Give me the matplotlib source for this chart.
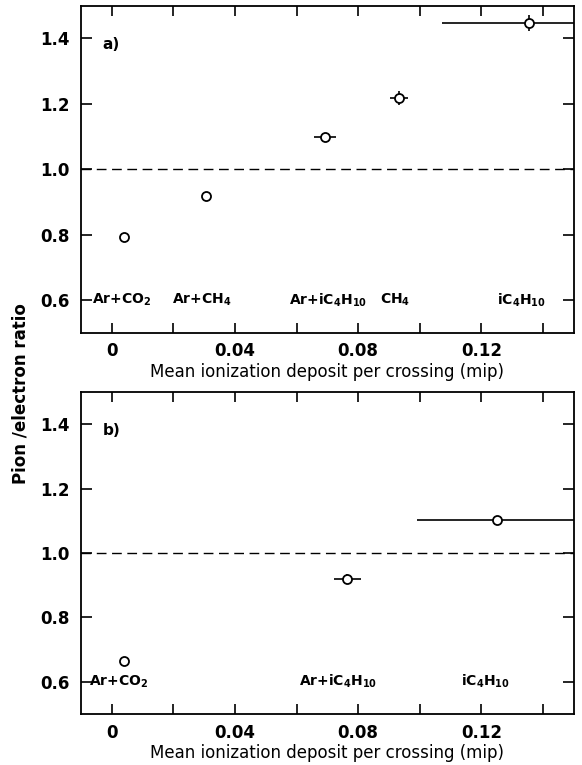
import matplotlib
matplotlib.use('Agg')
import matplotlib.pyplot as plt

plt.rcParams['font.family'] = ['DejaVu Sans Condensed', 'Liberation Sans Narrow', 'DejaVu Sans']
plt.rcParams['font.weight'] = 'bold'
plt.rcParams['mathtext.default'] = 'regular'

# panel a) : mean ionization deposit (mip) vs pion/electron ratio
a_x = [0.004, 0.0306, 0.0692, 0.0933, 0.1353]
a_y = [0.794, 0.918, 1.099, 1.218, 1.448]
a_xerr = [0.0, 0.0, 0.0035, 0.003, 0.028]
a_yerr = [0.0, 0.0, 0.013, 0.02, 0.025]
a_labels = ['Ar+CO$_2$', 'Ar+CH$_4$', 'Ar+iC$_4$H$_{10}$', 'CH$_4$', 'iC$_4$H$_{10}$']
a_label_x = [0.0033, 0.0293, 0.0702, 0.092, 0.133]

# panel b)
b_x = [0.004, 0.0765, 0.1251]
b_y = [0.663, 0.920, 1.101]
b_xerr = [0.0, 0.0045, 0.026]
b_yerr = [0.0, 0.015, 0.015]
b_labels = ['Ar+CO$_2$', 'Ar+iC$_4$H$_{10}$', 'iC$_4$H$_{10}$']
b_label_x = [0.0023, 0.0735, 0.1213]

xticks = [0, 0.04, 0.08, 0.12]
xtick_labels = ['0', '0.04', '0.08', '0.12']
yticks = [0.6, 0.8, 1.0, 1.2, 1.4]

fig = plt.figure(figsize=(5.82, 7.65), dpi=100)
ax1 = fig.add_axes([0.139, 0.565, 0.847, 0.4275])
ax2 = fig.add_axes([0.139, 0.0667, 0.847, 0.421])

panels = [
    (ax1, a_x, a_y, a_xerr, a_yerr, a_labels, a_label_x, 'a)'),
    (ax2, b_x, b_y, b_xerr, b_yerr, b_labels, b_label_x, 'b)'),
]

for ax, x, y, xe, ye, labs, lx, tag in panels:
    ax.axhline(1.0, color='black', lw=1.0, ls=(0, (7, 4)), zorder=1)
    ax.errorbar(x, y, xerr=xe, yerr=ye, fmt='o', ms=6.5, mfc='white', mec='black',
                mew=1.3, ecolor='black', elinewidth=1.2, capsize=0, zorder=3)
    for lab, xx in zip(labs, lx):
        ax.text(xx, 0.6, lab, ha='center', va='center', fontsize=10)
    ax.text(-0.003, 1.38, tag, fontsize=11, va='center')
    ax.set_xlim(-0.01, 0.15)
    ax.set_ylim(0.5, 1.5)
    ax.set_xticks(xticks)
    ax.set_xticklabels(xtick_labels)
    ax.set_xticks([0.02, 0.06, 0.10, 0.14], minor=True)
    ax.set_yticks(yticks)
    ax.set_yticklabels(['%.1f' % v for v in yticks])
    ax.tick_params(which='both', direction='in', top=True, right=True,
                   labelsize=12, width=1.2)
    ax.tick_params(axis='x', which='major', length=7, pad=7)
    ax.tick_params(axis='x', which='minor', length=7)
    ax.tick_params(axis='y', which='major', length=8, pad=8)
    ax.set_xlabel('Mean ionization deposit per crossing (mip)', fontsize=12, labelpad=2)
    for s in ax.spines.values():
        s.set_linewidth(1.3)

fig.text(0.035, 0.485, 'Pion /electron ratio', rotation=90, ha='center', va='center',
         fontsize=12, fontweight='bold')

fig.savefig('out.png', dpi=100)
